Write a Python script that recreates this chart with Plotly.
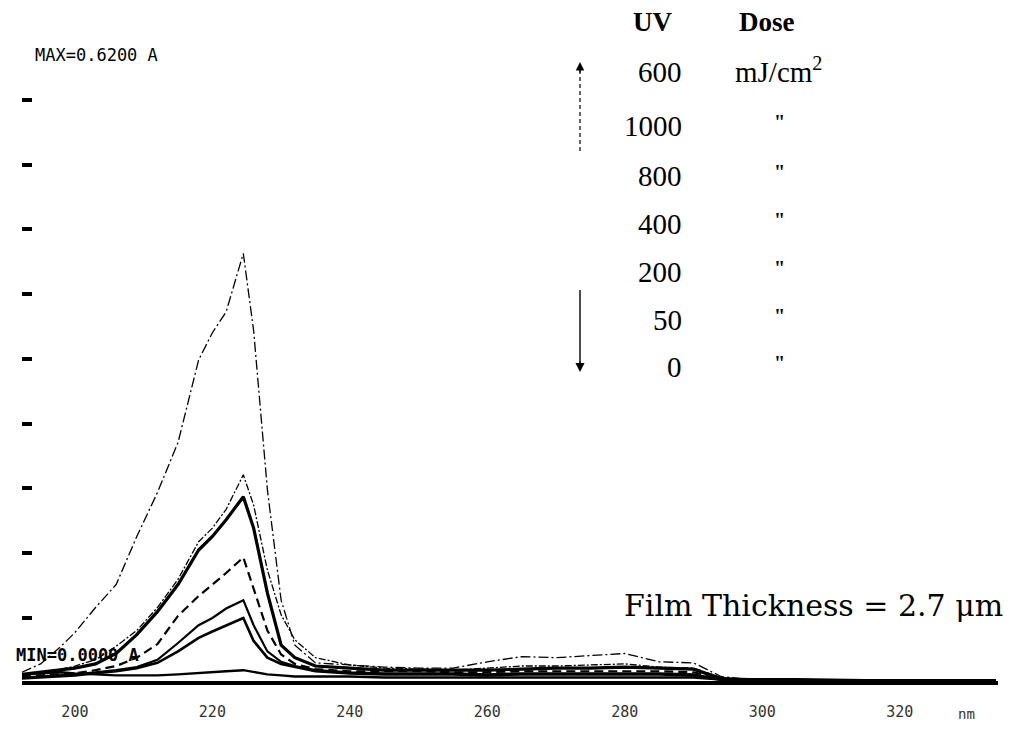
import plotly.graph_objects as go

# ---------------- data ----------------
wavelength = [192.3, 195, 198, 200, 203, 206, 209, 212, 215, 218,
              220, 222, 224.5, 226, 228, 230, 232, 235, 240, 245,
              250, 255, 260, 265, 270, 275, 280, 285, 290, 294,
              298, 305, 315, 325, 334]

abs_600 = [0.010, 0.018, 0.035, 0.048, 0.072, 0.094, 0.140, 0.182, 0.230, 0.309,
           0.335, 0.355, 0.411, 0.337, 0.185, 0.079, 0.036, 0.019, 0.017, 0.015,
           0.014, 0.014, 0.020, 0.025, 0.024, 0.026, 0.028, 0.020, 0.019, 0.006,
           0.003, 0.003, 0.002, 0.002, 0.002]
abs_1000 = [0.008, 0.010, 0.013, 0.016, 0.022, 0.035, 0.050, 0.072, 0.099, 0.135,
            0.148, 0.166, 0.199, 0.170, 0.108, 0.065, 0.041, 0.024, 0.017, 0.014,
            0.013, 0.012, 0.014, 0.016, 0.016, 0.017, 0.018, 0.015, 0.014, 0.005,
            0.003, 0.003, 0.002, 0.002, 0.002]
abs_800 = [0.008, 0.010, 0.012, 0.014, 0.018, 0.028, 0.046, 0.068, 0.094, 0.127,
           0.140, 0.156, 0.178, 0.148, 0.086, 0.036, 0.024, 0.016, 0.014, 0.012,
           0.012, 0.012, 0.012, 0.013, 0.014, 0.014, 0.015, 0.014, 0.013, 0.004,
           0.003, 0.003, 0.002, 0.002, 0.002]
abs_400 = [0.006, 0.007, 0.008, 0.009, 0.012, 0.016, 0.024, 0.037, 0.064, 0.083,
           0.094, 0.105, 0.120, 0.090, 0.050, 0.027, 0.018, 0.013, 0.011, 0.011,
           0.011, 0.010, 0.010, 0.011, 0.011, 0.011, 0.011, 0.011, 0.010, 0.004,
           0.003, 0.002, 0.002, 0.002, 0.002]
abs_200 = [0.005, 0.006, 0.007, 0.008, 0.010, 0.012, 0.015, 0.022, 0.038, 0.055,
           0.062, 0.071, 0.079, 0.055, 0.030, 0.020, 0.016, 0.012, 0.010, 0.009,
           0.009, 0.009, 0.008, 0.009, 0.009, 0.009, 0.009, 0.009, 0.008, 0.003,
           0.002, 0.002, 0.002, 0.002, 0.002]
abs_50 = [0.004, 0.005, 0.006, 0.007, 0.009, 0.011, 0.014, 0.019, 0.030, 0.043,
          0.049, 0.055, 0.062, 0.040, 0.024, 0.018, 0.015, 0.011, 0.009, 0.008,
          0.008, 0.008, 0.007, 0.008, 0.008, 0.008, 0.008, 0.008, 0.007, 0.003,
          0.002, 0.002, 0.002, 0.002, 0.002]
abs_0 = [0.008, 0.009, 0.010, 0.009, 0.008, 0.007, 0.007, 0.007, 0.008, 0.009,
         0.010, 0.011, 0.012, 0.010, 0.008, 0.007, 0.006, 0.006, 0.006, 0.005,
         0.005, 0.005, 0.005, 0.005, 0.005, 0.005, 0.005, 0.005, 0.005, 0.003,
         0.002, 0.002, 0.002, 0.002, 0.002]

dose_labels = ["600", "1000", "800", "400", "200", "50", "0"]
x_tick_vals = [200, 220, 240, 260, 280, 300, 320]
x_tick_text = ["200", "220", "240", "260", "280", "300", "320"]
y_max = 0.62
y_tick_vals = [0.062, 0.124, 0.186, 0.248, 0.310, 0.372, 0.434, 0.496, 0.558]

# ---------------- layout geometry ----------------
OFF = 8                      # page body margin
W, H = 1015 - OFF, 732 - OFF
ML, MR, MT, MB = 14, 17, 27, 43
PW, PH = W - ML - MR, H - MT - MB


def px(x):
    return (x - OFF - ML) / PW


def py(y):
    return (MT + PH - (y - OFF)) / PH


fig = go.Figure()

styles = [
    (abs_600, dict(color="black", width=1.3, dash="10px,3px,2px,3px")),
    (abs_1000, dict(color="black", width=1.3, dash="7px,2px,2px,2px")),
    (abs_800, dict(color="black", width=3.2)),
    (abs_400, dict(color="black", width=2.2, dash="9px,5px")),
    (abs_200, dict(color="black", width=2.2)),
    (abs_50, dict(color="black", width=2.6)),
    (abs_0, dict(color="black", width=2.4)),
]
for (vals, ln), name in zip(styles, dose_labels):
    fig.add_trace(go.Scatter(x=wavelength, y=vals, mode="lines", line=ln,
                             name=name + " mJ/cm2", showlegend=False))

serif = "Liberation Serif"
ann = []
ann.append(dict(x=px(652), y=py(22), text="<b>UV</b>", font=dict(family=serif, size=27)))
ann.append(dict(x=px(767), y=py(22), text="<b>Dose</b>", font=dict(family=serif, size=27)))
row_y = [72, 126, 176, 224, 272, 320, 367]
for i, (lab, yy) in enumerate(zip(dose_labels, row_y)):
    ann.append(dict(x=px(684), y=py(yy), text=lab, xanchor="right",
                    font=dict(family=serif, size=29)))
    if i == 0:
        ann.append(dict(x=px(733), y=py(yy - 2), text="mJ/cm<sup>2</sup>", xanchor="left",
                        font=dict(family=serif, size=29)))
    else:
        ann.append(dict(x=px(779), y=py(yy - 4), text="<b>\"</b>",
                        font=dict(family=serif, size=20)))

# arrowheads
ann.append(dict(x=px(580), y=py(62), ax=0, ay=12, text="", showarrow=True,
                arrowhead=2, arrowsize=1.3, arrowwidth=1.3, arrowcolor="black"))
ann.append(dict(x=px(580), y=py(372), ax=0, ay=-12, text="", showarrow=True,
                arrowhead=2, arrowsize=1.3, arrowwidth=1.4, arrowcolor="black"))

ann.append(dict(x=px(1005), y=py(605), text="Film Thickness = 2.7 \u03bcm", xanchor="right",
                font=dict(family="DejaVu Serif", size=30)))
ann.append(dict(x=px(33), y=py(55), text="MAX=0.6200 A", xanchor="left",
                font=dict(family="DejaVu Sans Mono", size=17)))
ann.append(dict(x=px(14), y=py(655), text="<b>MIN=0.0000 A</b>", xanchor="left",
                font=dict(family="DejaVu Sans Mono", size=17)))
ann.append(dict(x=px(966), y=py(714), text="nm",
                font=dict(family="DejaVu Sans Mono", size=14, color="#333")))

for a in ann:
    a.setdefault("showarrow", False)
    a.setdefault("xanchor", "center")
    a["yanchor"] = "middle"
    a["xref"] = "paper"
    a["yref"] = "paper"
    a.setdefault("font", {})
    a["font"].setdefault("color", "black")
fig.update_layout(annotations=ann)

shapes = [
    dict(type="line", xref="paper", yref="paper", x0=px(580), x1=px(580), y0=py(70), y1=py(152),
         line=dict(color="black", width=1.2, dash="4px,3px")),
    dict(type="line", xref="paper", yref="paper", x0=px(580), x1=px(580), y0=py(290), y1=py(365),
         line=dict(color="black", width=1.4)),
]
fig.update_layout(shapes=shapes)

fig.update_layout(
    width=W, height=H,
    margin=dict(l=ML, r=MR, t=MT, b=MB),
    paper_bgcolor="white", plot_bgcolor="white",
    font=dict(color="black"),
    xaxis=dict(range=[192.3, 334.3], showgrid=False, zeroline=False, showline=False,
               tickvals=x_tick_vals, ticktext=x_tick_text, ticks="",
               ticklabelstandoff=12,
               tickfont=dict(family="DejaVu Sans Mono", size=15, color="#333")),
    yaxis=dict(range=[-0.006, y_max], showgrid=False, showline=False,
               zeroline=True, zerolinecolor="black", zerolinewidth=4,
               tickvals=y_tick_vals, ticks="inside", ticklen=10, tickwidth=4,
               tickcolor="black", showticklabels=False),
)

fig.write_html("out.html")
